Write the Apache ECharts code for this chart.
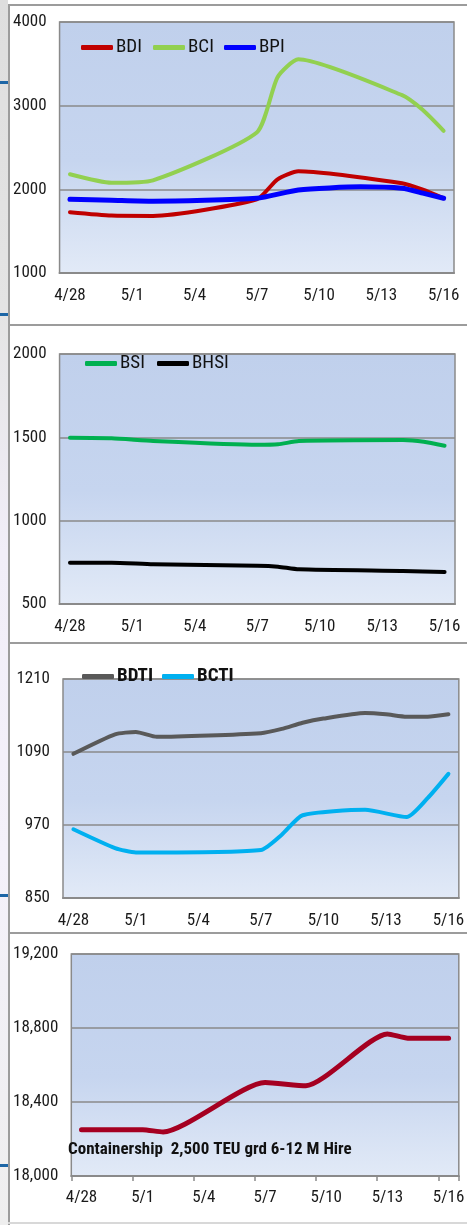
<!DOCTYPE html>
<html>
<head>
<meta charset="utf-8">
<script src="https://cdn.jsdelivr.net/npm/echarts@6/dist/echarts.min.js"></script>
<style>
  body { margin: 0; width: 467px; height: 1225px; overflow: hidden; background: #fff; position: relative; }
  .strip { position: absolute; left: 0; top: 0; width: 8px; height: 1225px;
    background: linear-gradient(to bottom, #dedede 0%, #e4e4e4 25%, #f1eef8 45%, #f4f1fa 70%, #eeeeee 100%); }
  .mark { position: absolute; left: 0; width: 8px; height: 3px; background: #1d66a6; }
  .vline { position: absolute; left: 8px; top: 4px; width: 2px; height: 1221px; background: #9c9c9c; }
  .hline { position: absolute; left: 8px; right: 0; height: 2px; background: #9c9c9c; }
  .chart { position: absolute; left: 10px; width: 457px; }
</style>
</head>
<body>
<div class="strip"></div>
<div class="mark" style="top:81px"></div>
<div class="mark" style="top:313px"></div>
<div class="mark" style="top:894px"></div>
<div class="mark" style="top:1164px"></div>
<div class="vline"></div>
<div class="hline" style="top:4px"></div>
<div class="hline" style="top:324px"></div>
<div class="hline" style="top:642px"></div>
<div class="hline" style="top:932px"></div>
<div class="hline" style="top:1222px;background:#d8d8d8"></div>

<div id="c1" class="chart" style="top:6px;height:318px"></div>
<div id="c2" class="chart" style="top:326px;height:316px"></div>
<div id="c3" class="chart" style="top:644px;height:288px"></div>
<div id="c4" class="chart" style="top:934px;height:288px"></div>

<script>
// 日期（x 軸每天一格，每 3 天顯示一個標籤）
const dates = ['4/28', '4/29', '4/30', '5/1', '5/2', '5/3', '5/4', '5/5', '5/6', '5/7',
  '5/8', '5/9', '5/10', '5/11', '5/12', '5/13', '5/14', '5/15', '5/16'];

// 乾散貨指數
const bdi = [1726, null, 1686, null, 1682, null, null, null, null, 1881, 2120, 2215, null, null, null, null, 2072, 1995, 1893];
const bci = [2180, null, 2078, null, 2108, null, null, null, null, 2680, 3340, 3554, null, null, null, null, 3125, 2948, 2700];
const bpi = [1882, null, 1870, null, 1858, null, null, null, null, 1893, null, 1992, null, null, 2030, null, 2012, 1955, 1893];

const bsi = [1497, null, 1494, null, 1478, null, null, null, null, 1455, 1458, 1478, null, null, null, null, 1484, 1474, 1450];
const bhsi = [748, null, 748, null, 738, null, null, null, null, 730, 724, 708, null, null, null, null, 698, null, 692];

// 油輪指數
const bdti = [1087, null, 1119, 1123, 1115, null, null, null, null, 1121, 1128, 1138, 1145, null, 1154, 1152, 1148, 1148, 1152];
const bcti = [963, null, 932, 925, 925, null, null, null, null, 929, 954, 986, null, null, 995, null, 983, 1014, 1054];

// 貨櫃船租金
const hire = [18250, null, null, 18250, 18238, null, null, null, null, 18505, null, 18488, null, null, null, 18768, 18745, null, 18745];

const FONT = "'Roboto Condensed', 'Liberation Sans', sans-serif";
const GRAY = '#8a8a8a';

const plotBg = {
  type: 'linear', x: 0, y: 0, x2: 0, y2: 1,
  colorStops: [
    { offset: 0, color: '#c0d0ec' },
    { offset: 0.55, color: '#c6d5ef' },
    { offset: 1, color: '#e2eaf7' },
  ],
};

const makeOption = (p) => ({
  animation: false,
  textStyle: { fontFamily: FONT },
  title: p.title || { show: false },
  grid: {
    left: p.grid[0], right: p.grid[1], top: p.grid[2], bottom: p.grid[3],
    show: true, backgroundColor: plotBg, borderColor: GRAY, borderWidth: 1.5,
  },
  legend: (p.legend || []).map((it) => ({
    data: [it.name],
    left: it.left,
    top: p.legendTop,
    padding: 0,
    icon: 'roundRect',
    itemWidth: 32,
    itemHeight: 5,
    itemGap: 0,
    textStyle: { fontFamily: FONT, fontSize: 19, color: '#111', fontWeight: p.legendBold ? 'bold' : 'normal', padding: [0, 0, 0, -2] },
  })),
  xAxis: {
    type: 'category',
    data: dates,
    boundaryGap: true,
    axisLine: { lineStyle: { color: GRAY, width: 2 } },
    axisTick: { show: !!p.ticks, interval: 2, length: 5, lineStyle: { color: GRAY, width: 1.5 } },
    axisLabel: { interval: 2, margin: p.xMargin, color: '#1a1a1a', fontSize: 17, fontFamily: FONT },
  },
  yAxis: {
    type: 'value',
    min: p.min, max: p.max, interval: p.interval,
    axisLine: { show: false },
    axisTick: { show: false },
    splitLine: { lineStyle: { color: GRAY, width: 1.5 } },
    axisLabel: {
      margin: 13, color: '#1a1a1a', fontSize: 17, fontFamily: FONT,
      formatter: (v) => (p.comma ? v.toLocaleString('en-US') : String(v)),
    },
  },
  series: p.series.map((s) => ({
    type: 'line',
    name: s.name,
    data: s.data,
    smooth: 0.2,
    connectNulls: true,
    symbol: 'none',
    lineStyle: { color: s.color, width: s.width || 4, cap: 'round', join: 'round' },
    itemStyle: { color: s.color },
  })),
});

const panels = [
  {
    id: 'c1', grid: [42, 13, 16, 51], min: 1000, max: 4000, interval: 1000, xMargin: 14,
    legendTop: 32,
    legend: [{ name: 'BDI', left: 71 }, { name: 'BCI', left: 143 }, { name: 'BPI', left: 214 }],
    series: [
      { name: 'BDI', data: bdi, color: '#c00000' },
      { name: 'BCI', data: bci, color: '#92d050' },
      { name: 'BPI', data: bpi, color: '#0000ff', width: 5 },
    ],
  },
  {
    id: 'c2', grid: [44, 12, 28, 38], min: 500, max: 2000, interval: 500, xMargin: 14,
    legendTop: 28,
    legend: [{ name: 'BSI', left: 75 }, { name: 'BHSI', left: 147 }],
    series: [
      { name: 'BSI', data: bsi, color: '#00b050' },
      { name: 'BHSI', data: bhsi, color: '#000000' },
    ],
  },
  {
    id: 'c3', grid: [53, 2, 35, 34], min: 850, max: 1210, interval: 120, xMargin: 14,
    legendTop: 23, legendBold: true,
    legend: [{ name: 'BDTI', left: 72 }, { name: 'BCTI', left: 152 }],
    series: [
      { name: 'BDTI', data: bdti, color: '#595959' },
      { name: 'BCTI', data: bcti, color: '#00b0f0' },
    ],
  },
  {
    id: 'c4', grid: [51, 5, 20, 46], min: 18000, max: 19200, interval: 400, xMargin: 13,
    comma: true, ticks: true,
    title: {
      text: 'Containership  2,500 TEU grd 6-12 M Hire',
      left: 58, top: 207, padding: 0,
      textStyle: { fontFamily: FONT, fontSize: 17, fontWeight: 'bold', color: '#111' },
    },
    series: [{ name: 'Hire', data: hire, color: '#a50021', width: 5 }],
  },
];

panels.forEach((p) => {
  const chart = echarts.init(document.getElementById(p.id));
  chart.setOption(makeOption(p));
});
</script>
</body>
</html>
